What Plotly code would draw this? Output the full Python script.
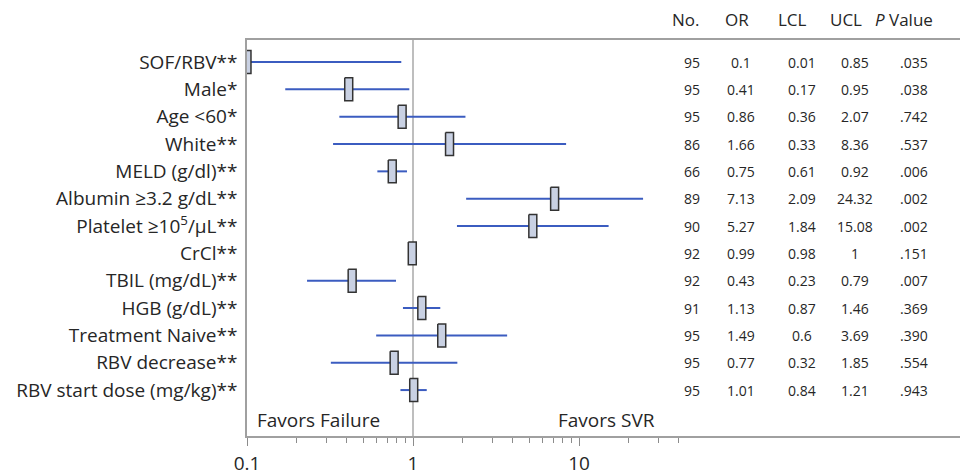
import math
import plotly.graph_objects as go

# ---- data ----
labels = ["SOF/RBV**", "Male*", "Age <60*", "White**", "MELD (g/dl)**",
          "Albumin ≥3.2 g/dL**", "Platelet ≥10<sup>5</sup>/µL**", "CrCl**",
          "TBIL (mg/dL)**", "HGB (g/dL)**", "Treatment Naive**",
          "RBV decrease**", "RBV start dose (mg/kg)**"]
n_obs = [95, 95, 95, 86, 66, 89, 90, 92, 92, 91, 95, 95, 95]
odds_ratio = [0.1, 0.41, 0.86, 1.66, 0.75, 7.13, 5.27, 0.99, 0.43, 1.13, 1.49, 0.77, 1.01]
lcl = [0.01, 0.17, 0.36, 0.33, 0.61, 2.09, 1.84, 0.98, 0.23, 0.87, 0.6, 0.32, 0.84]
ucl = [0.85, 0.95, 2.07, 8.36, 0.92, 24.32, 15.08, 1, 0.79, 1.46, 3.69, 1.85, 1.21]
p_values = [".035", ".038", ".742", ".537", ".006", ".002", ".002", ".151",
            ".007", ".369", ".390", ".554", ".943"]
headers = ["No.", "OR", "LCL", "UCL", "<i>P</i> Value"]
major_ticks = [0.1, 1, 10]
minor_ticks = [0.2, 0.3, 0.4, 0.5, 0.6, 0.7, 0.8, 0.9,
               2, 3, 4, 5, 6, 7, 8, 9, 20, 30, 40]

FONT = "Open Sans"
TXT = "#262626"
# page is offset by the browser's default 8px body margin
OFF = 8
PAGE_W, PAGE_H = 968, 473
W, H = PAGE_W - OFF, PAGE_H - OFF
PLOT_L, PLOT_T, PLOT_B = 247, 40, 436          # page pixel positions
ML, MR, MT, MB = PLOT_L - OFF, 0, PLOT_T - OFF, PAGE_H - PLOT_B
PW = W - ML - MR
PH = H - MT - MB
rows = list(range(len(labels)))


def px_x(page_x):
    return (page_x - PLOT_L) / PW


def px_y(page_y):
    return (PLOT_B - page_y) / PH


# CI lines
cx, cy = [], []
for i in rows:
    cx += [lcl[i], ucl[i], None]
    cy += [i, i, None]

# boxes (half-width in decades, half-height in row units)
hw, hh = 0.024, 0.42
bx, by = [], []
for i in rows:
    x0 = odds_ratio[i] / 10 ** hw
    x1 = odds_ratio[i] * 10 ** hw
    bx += [x0, x1, x1, x0, x0, None]
    by += [i - hh, i - hh, i + hh, i + hh, i - hh, None]

Y_TOP, Y_BOT = -0.805, 13.68

fig = go.Figure()
fig.add_trace(go.Scatter(x=[1, 1], y=[Y_TOP, Y_BOT], mode="lines",
                         line=dict(color="#a8a8a8", width=1.5), hoverinfo="skip"))
fig.add_trace(go.Scatter(x=cx, y=cy, mode="lines",
                         line=dict(color="#3b5cc0", width=2), hoverinfo="skip"))
fig.add_trace(go.Scatter(x=bx, y=by, mode="lines", fill="toself",
                         fillcolor="#c9d1e3", line=dict(color="#333333", width=1.5),
                         hoverinfo="skip"))

annotations = []
col_x = [692, 741, 802, 855, 914]
head_x = [686, 737, 792, 846, 904]
for hx, h in zip(head_x, headers):
    annotations.append(dict(x=px_x(hx), y=px_y(20), xref="paper", yref="paper",
                            text=h, showarrow=False, xanchor="center",
                            yanchor="middle",
                            font=dict(family=FONT, size=17, color=TXT)))
for i in rows:
    vals = [str(n_obs[i]), f"{odds_ratio[i]:g}", f"{lcl[i]:g}", f"{ucl[i]:g}", p_values[i]]
    for cxp, v in zip(col_x, vals):
        annotations.append(dict(x=px_x(cxp), y=i, xref="paper", yref="y",
                                text=v, showarrow=False, xanchor="center",
                                yanchor="middle",
                                font=dict(family=FONT, size=14, color=TXT)))
annotations.append(dict(x=px_x(255), y=px_y(420), xref="paper", yref="paper",
                        text="Favors Failure", showarrow=False, xanchor="left",
                        yanchor="middle", font=dict(family=FONT, size=19, color=TXT)))
annotations.append(dict(x=px_x(556), y=px_y(420), xref="paper", yref="paper",
                        text="Favors SVR", showarrow=False, xanchor="left",
                        yanchor="middle", font=dict(family=FONT, size=19, color=TXT)))

fig.update_layout(
    width=W, height=H,
    margin=dict(l=ML, r=MR, t=MT, b=MB, pad=0),
    paper_bgcolor="white", plot_bgcolor="white",
    showlegend=False,
    font=dict(family=FONT, size=19, color=TXT),
    annotations=annotations,
    xaxis=dict(type="log", range=[-1, -1 + PW / 166],
               automargin=False,
               tickmode="array", tickvals=major_ticks,
               ticktext=[f"{t:g}" for t in major_ticks],
               ticks="outside", ticklen=8, tickwidth=1, tickcolor="#8c8c8c",
               showline=True, linecolor="#a0a0a0", linewidth=1.5, mirror=True,
               showgrid=False, zeroline=False, ticklabelstandoff=1,
               tickfont=dict(family=FONT, size=19, color=TXT),
               minor=dict(tickmode="array", tickvals=minor_ticks, ticks="outside",
                          ticklen=5, tickwidth=1, tickcolor="#8c8c8c", showgrid=False)),
    yaxis=dict(range=[Y_BOT, Y_TOP], tickmode="array", tickvals=rows,
               automargin=False,
               ticktext=labels, ticks="", showline=True, linecolor="#a0a0a0",
               linewidth=1.5, showgrid=False, zeroline=False,
               ticklabelstandoff=4,
               tickfont=dict(family=FONT, size=19, color=TXT)),
)

fig.write_html("out.html")
